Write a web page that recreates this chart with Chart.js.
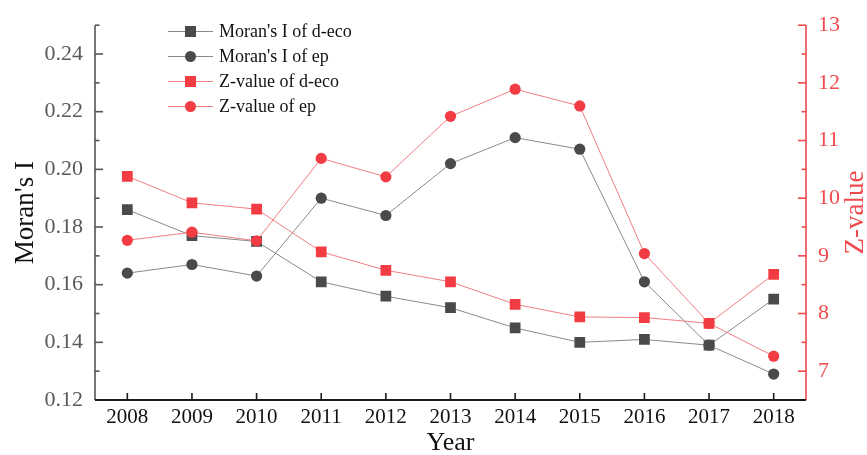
<!DOCTYPE html>
<html>
<head>
<meta charset="utf-8">
<script src="https://cdn.jsdelivr.net/npm/chart.js@4/dist/chart.umd.min.js"></script>
<style>
  html, body { margin: 0; padding: 0; background: #ffffff; }
  #wrap { width: 867px; height: 455px; }
</style>
</head>
<body>
<div id="wrap"><canvas id="c" width="867" height="455"></canvas></div>
<script>
// Years on the horizontal axis
const years = ['2008', '2009', '2010', '2011', '2012', '2013', '2014', '2015', '2016', '2017', '2018'];

// Global Moran's I (left axis)
const moranDeco = [0.186, 0.177, 0.175, 0.161, 0.156, 0.152, 0.145, 0.140, 0.141, 0.139, 0.155];
const moranEp   = [0.164, 0.167, 0.163, 0.190, 0.184, 0.202, 0.211, 0.207, 0.161, 0.139, 0.129];

// Z-values (right axis)
const zDeco = [10.38, 9.92, 9.81, 9.07, 8.75, 8.55, 8.16, 7.94, 7.93, 7.83, 8.68];
const zEp   = [9.27, 9.41, 9.26, 10.69, 10.37, 11.42, 11.89, 11.60, 9.04, 7.83, 7.26];

// Axis ticks
const moranTicks = [0.12, 0.14, 0.16, 0.18, 0.20, 0.22, 0.24];
const moranMinor = [0.13, 0.15, 0.17, 0.19, 0.21, 0.23, 0.25];
const zTicks = [7, 8, 9, 10, 11, 12, 13];
const zMinor = [6.5, 7.5, 8.5, 9.5, 10.5, 11.5, 12.5];

const FONT = "'Liberation Serif', 'Times New Roman', serif";
const GRAY_MARK = '#4a4a4a';
const GRAY_LINE = '#8a8a8a';
const RED_MARK = '#f03c42';
const RED_LINE = '#f27c80';
const RED_AXIS = '#f04a4e';

// Axis lines, inward tick marks and axis titles
const axesFrame = {
  id: 'axesFrame',
  beforeDatasetsDraw(chart) {
    const { ctx, chartArea: ca, scales } = chart;
    const x = scales.x, yL = scales.yL, yR = scales.yR;
    const seg = (x1, y1, x2, y2) => { ctx.beginPath(); ctx.moveTo(x1, y1); ctx.lineTo(x2, y2); ctx.stroke(); };
    ctx.save();
    ctx.lineWidth = 1.6;

    // left axis
    ctx.strokeStyle = '#555555';
    seg(ca.left, ca.top, ca.left, ca.bottom);
    moranTicks.forEach(v => { const y = yL.getPixelForValue(v); seg(ca.left, y, ca.left + 8, y); });
    moranMinor.forEach(v => { const y = yL.getPixelForValue(v); seg(ca.left, y, ca.left + 4.5, y); });

    // right axis
    ctx.strokeStyle = RED_AXIS;
    seg(ca.right, ca.top, ca.right, ca.bottom);
    zTicks.forEach(v => { const y = yR.getPixelForValue(v); seg(ca.right, y, ca.right - 8, y); });
    zMinor.forEach(v => { const y = yR.getPixelForValue(v); seg(ca.right, y, ca.right - 4.5, y); });

    // bottom axis
    ctx.strokeStyle = '#1a1a1a';
    ctx.lineWidth = 2;
    seg(ca.left, ca.bottom, ca.right, ca.bottom);
    ctx.lineWidth = 1.6;
    years.forEach((_, i) => { const px = x.getPixelForValue(i); seg(px, ca.bottom, px, ca.bottom - 7); });
    ctx.restore();
  },
  afterDraw(chart) {
    const { ctx, chartArea: ca } = chart;
    const midY = (ca.top + ca.bottom) / 2;
    ctx.save();
    ctx.textAlign = 'center';
    ctx.textBaseline = 'middle';
    ctx.font = '27px ' + FONT;

    ctx.fillStyle = '#111111';
    ctx.save(); ctx.translate(26, midY); ctx.rotate(-Math.PI / 2); ctx.fillText("Moran's I", 0, 0); ctx.restore();

    ctx.fillStyle = RED_AXIS;
    ctx.save(); ctx.translate(856, midY); ctx.rotate(-Math.PI / 2); ctx.fillText('Z-value', 0, 0); ctx.restore();

    ctx.fillStyle = '#111111';
    ctx.font = '26px ' + FONT;
    ctx.fillText('Year', (ca.left + ca.right) / 2, 443);
    ctx.restore();
  }
};

// Legend with a line segment through each marker
const lineLegend = {
  id: 'lineLegend',
  afterDraw(chart) {
    const { ctx } = chart;
    const x0 = 168, x1 = 213, xm = 190.5, xt = 219, y0 = 31.5, dy = 25;
    ctx.save();
    ctx.font = '18px ' + FONT;
    ctx.textBaseline = 'middle';
    ctx.textAlign = 'left';
    chart.data.datasets.forEach((ds, i) => {
      const y = y0 + dy * i;
      ctx.strokeStyle = ds.borderColor;
      ctx.lineWidth = 1;
      ctx.beginPath(); ctx.moveTo(x0, y); ctx.lineTo(x1, y); ctx.stroke();
      ctx.fillStyle = ds.pointBackgroundColor;
      if (ds.pointStyle === 'rect') {
        ctx.fillRect(xm - 5.5, y - 5.5, 11, 11);
      } else {
        ctx.beginPath(); ctx.arc(xm, y, 5.5, 0, Math.PI * 2); ctx.fill();
      }
      ctx.fillStyle = '#111111';
      ctx.fillText(ds.label, xt, y + 1);
    });
    ctx.restore();
  }
};

const series = (label, data, axis, style, mark, line, order) => ({
  label, data, yAxisID: axis, order,
  borderColor: line, borderWidth: 1,
  pointStyle: style,
  pointRadius: style === 'rect' ? 7.6 : 5.6,
  pointHoverRadius: style === 'rect' ? 7.6 : 5.6,
  pointBackgroundColor: mark, pointBorderColor: mark, pointBorderWidth: 0,
  tension: 0, fill: false
});

new Chart(document.getElementById('c'), {
  type: 'line',
  data: {
    labels: years,
    datasets: [
      series("Moran's I of d-eco", moranDeco, 'yL', 'rect', GRAY_MARK, GRAY_LINE, 4),
      series("Moran's I of ep", moranEp, 'yL', 'circle', GRAY_MARK, GRAY_LINE, 3),
      series('Z-value of d-eco', zDeco, 'yR', 'rect', RED_MARK, RED_LINE, 2),
      series('Z-value of ep', zEp, 'yR', 'circle', RED_MARK, RED_LINE, 1)
    ]
  },
  options: {
    responsive: false,
    devicePixelRatio: 1,
    animation: false,
    layout: { padding: { top: 25, left: 0, right: 0, bottom: 0 } },
    plugins: { legend: { display: false }, tooltip: { enabled: false } },
    events: [],
    scales: {
      x: {
        type: 'category',
        offset: true,
        grid: { display: false, drawTicks: false },
        border: { display: false },
        ticks: { color: '#111111', font: { family: FONT, size: 21 }, padding: 5, maxRotation: 0, autoSkip: false },
        afterFit(s) { s.height = 55; }
      },
      yL: {
        type: 'linear',
        position: 'left',
        min: 0.12, max: 0.25,
        grid: { display: false, drawTicks: false },
        border: { display: false },
        afterBuildTicks(s) { s.ticks = moranTicks.map(v => ({ value: v })); },
        ticks: { color: '#595959', font: { family: FONT, size: 22 }, padding: 12, callback: v => Number(v).toFixed(2) },
        afterFit(s) { s.width = 95; }
      },
      yR: {
        type: 'linear',
        position: 'right',
        min: 6.5, max: 13,
        grid: { display: false, drawTicks: false },
        border: { display: false },
        afterBuildTicks(s) { s.ticks = zTicks.map(v => ({ value: v })); },
        ticks: { color: RED_AXIS, font: { family: FONT, size: 22 }, padding: 12, callback: v => String(v) },
        afterFit(s) { s.width = 61; }
      }
    }
  },
  plugins: [axesFrame, lineLegend]
});
</script>
</body>
</html>
